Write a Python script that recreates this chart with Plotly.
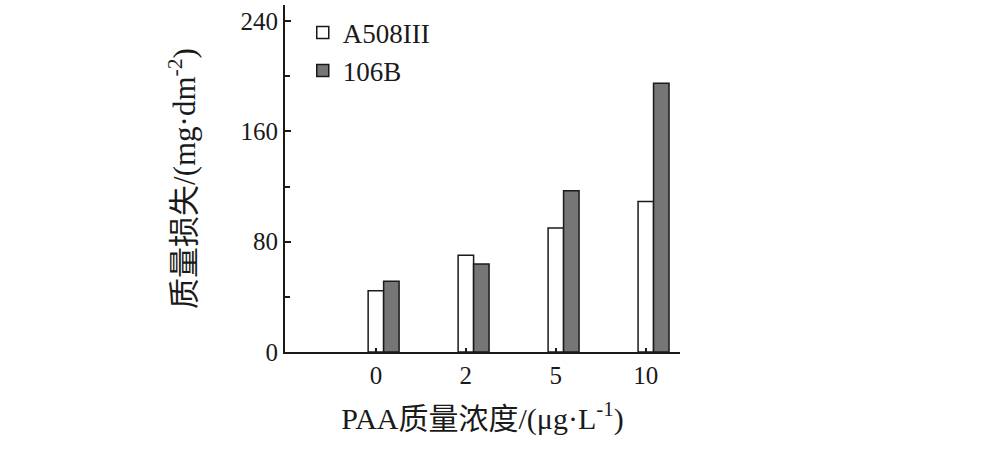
import plotly.graph_objects as go

categories = ["0", "2", "5", "10"]
a508iii = [44.5, 70.1, 89.9, 109.2]
b106 = [51.3, 63.8, 117.0, 194.9]
series_names = ["A508III", "106B"]

xpos = list(range(len(categories)))
bw = 0.172

fig = go.Figure()
fig.add_trace(go.Bar(
    x=xpos, y=a508iii, name=series_names[0], width=bw, offset=-bw / 2,
    marker=dict(color="white", line=dict(color="#1a1a1a", width=1.5)),
))
fig.add_trace(go.Bar(
    x=xpos, y=b106, name=series_names[1], width=bw, offset=bw / 2,
    marker=dict(color="#767676", line=dict(color="#1a1a1a", width=1.5)),
))

serif = "Liberation Serif, Noto Sans CJK SC, serif"
fig.update_layout(
    width=986, height=458,
    margin=dict(l=285, r=306, t=5, b=106),
    paper_bgcolor="white", plot_bgcolor="white",
    barmode="overlay",
    font=dict(family=serif, size=22, color="#1a1a1a"),
    showlegend=True,
    legend=dict(
        x=0.045, y=0.99, xanchor="left", yanchor="top",
        font=dict(family=serif, size=27, color="#1a1a1a"),
        bgcolor="rgba(0,0,0,0)", itemwidth=30, tracegroupgap=0,
    ),
    xaxis=dict(
        range=[-1.01, 3.38],
        tickmode="array", tickvals=xpos, ticktext=categories,
        showline=True, linecolor="#1a1a1a", linewidth=2,
        ticks="inside", ticklen=4, tickwidth=1.5, tickcolor="#1a1a1a",
        showgrid=False, zeroline=False,
        tickfont=dict(family=serif, size=25),
        title=dict(text="PAA质量浓度/(μg·L<sup>-1</sup>)", font=dict(family=serif, size=30), standoff=20),
    ),
    yaxis=dict(
        range=[0, 251.6],
        tickmode="array", tickvals=[0, 80, 160, 240],
        showline=True, linecolor="#1a1a1a", linewidth=2,
        ticks="inside", ticklen=6, tickwidth=1.5, tickcolor="#1a1a1a",
        minor=dict(tickvals=[40, 120, 200], ticks="inside", ticklen=5, tickwidth=1.5, tickcolor="#1a1a1a"),
        showgrid=False, zeroline=False,
        tickfont=dict(family=serif, size=25),
        title=dict(text="质量损失/(mg·dm<sup>-2</sup>)", font=dict(family=serif, size=31), standoff=36),
    ),
)

fig.write_html("out.html", config={"displayModeBar": False},
               post_script="document.body.style.margin='0';")
